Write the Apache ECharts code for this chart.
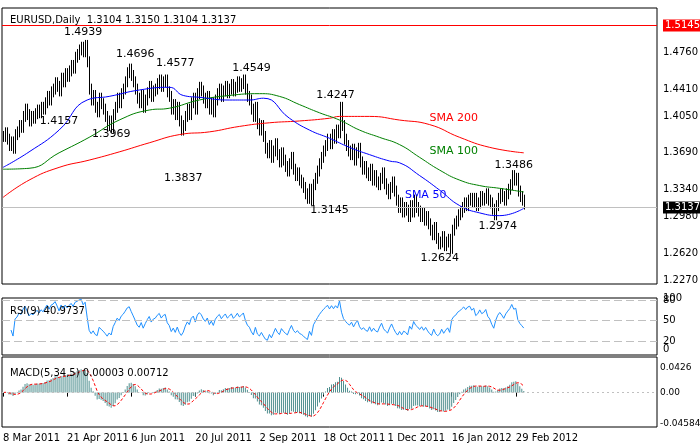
<!DOCTYPE html>
<html><head><meta charset="utf-8">
<script src="https://cdn.jsdelivr.net/npm/echarts@6/dist/echarts.min.js"></script>
<style>html,body{margin:0;padding:0;background:#fff}#c{width:700px;height:446px}</style>
</head><body><div id="c"></div>
<script>
const closes = [
1.388,1.392,1.385,1.378,1.382,1.375,1.390,1.393,1.400,1.398,
1.410,1.418,1.412,1.405,1.410,1.408,1.413,1.417,1.414,1.420,
1.418,1.425,1.432,1.428,1.437,1.440,1.447,1.443,1.438,1.452,
1.448,1.457,1.454,1.460,1.466,1.463,1.475,1.478,1.483,1.486,
1.481,1.488,1.470,1.440,1.428,1.433,1.420,1.415,1.430,1.424,
1.418,1.410,1.400,1.405,1.398,1.412,1.420,1.430,1.425,1.435,
1.440,1.448,1.458,1.462,1.455,1.448,1.440,1.430,1.425,1.433,
1.420,1.428,1.436,1.443,1.432,1.438,1.440,1.446,1.450,1.443,
1.448,1.450,1.437,1.432,1.418,1.423,1.412,1.420,1.405,1.395,
1.400,1.410,1.418,1.412,1.425,1.430,1.418,1.435,1.442,1.438,
1.430,1.425,1.432,1.418,1.425,1.415,1.428,1.435,1.440,1.432,
1.438,1.443,1.436,1.440,1.445,1.438,1.442,1.448,1.443,1.446,
1.450,1.440,1.432,1.428,1.418,1.410,1.420,1.402,1.395,1.400,
1.388,1.375,1.370,1.378,1.365,1.372,1.380,1.368,1.360,1.370,
1.362,1.355,1.350,1.358,1.365,1.352,1.345,1.348,1.340,1.337,
1.332,1.325,1.320,1.330,1.318,1.335,1.342,1.350,1.358,1.365,
1.372,1.378,1.385,1.380,1.390,1.386,1.395,1.392,1.420,1.400,
1.385,1.378,1.372,1.368,1.374,1.362,1.370,1.375,1.360,1.352,
1.355,1.348,1.345,1.352,1.340,1.345,1.338,1.335,1.342,1.348,
1.336,1.330,1.325,1.332,1.338,1.328,1.318,1.310,1.315,1.305,
1.310,1.307,1.300,1.312,1.305,1.318,1.310,1.306,1.300,1.304,
1.296,1.300,1.292,1.285,1.280,1.288,1.276,1.270,1.272,1.278,
1.268,1.272,1.275,1.265,1.285,1.292,1.295,1.302,1.305,1.310,
1.315,1.312,1.318,1.320,1.316,1.320,1.312,1.315,1.322,1.318,
1.320,1.325,1.318,1.315,1.308,1.302,1.312,1.320,1.325,1.322,
1.318,1.325,1.330,1.335,1.345,1.340,1.342,1.328,1.322,1.318,1.3137];
// moving averages: [bar index, value]
const sma50 = [[0,1.354],[13,1.371],[28,1.395],[42,1.428],[53,1.432],[68,1.439],[83,1.442],[90,1.433],[98,1.431],[113,1.428],[123,1.428],[130,1.430],[143,1.408],[153,1.395],[163,1.386],[173,1.376],[183,1.368],[193,1.361],[198,1.359],[208,1.345],[218,1.329],[228,1.312],[238,1.304],[248,1.301],[260,1.309]];
const sma100 = [[0,1.352],[13,1.353],[28,1.370],[43,1.387],[58,1.406],[73,1.417],[83,1.419],[98,1.428],[113,1.433],[128,1.435],[138,1.432],[148,1.423],[158,1.414],[168,1.406],[178,1.395],[188,1.387],[198,1.379],[208,1.365],[218,1.351],[228,1.340],[238,1.334],[248,1.331],[260,1.327]];
const sma200 = [[0,1.321],[13,1.340],[28,1.354],[43,1.362],[58,1.371],[73,1.381],[88,1.390],[103,1.393],[118,1.399],[133,1.403],[148,1.405],[163,1.408],[168,1.410],[183,1.410],[198,1.406],[213,1.401],[228,1.387],[243,1.376],[260,1.370]];
const priceTicks = [1.4760,1.4410,1.4050,1.3690,1.3340,1.2980,1.2620,1.2270];
const rsiTicks = [[83,'100'],[80,'80'],[50,'50'],[20,'20'],[8,'0']];
const macdTicks = [[0.0426,'0.0426'],[0,'0.00'],[-0.04584,'-0.04584']];
const dateLabels = ['8 Mar 2011','21 Apr 2011','6 Jun 2011','20 Jul 2011','2 Sep 2011','18 Oct 2011','1 Dec 2011','16 Jan 2012','29 Feb 2012'];
const notes = [['1.4939',40,1.5026],['1.4157',28,1.405],['1.3969',54,1.390],['1.4696',66,1.478],['1.4577',86,1.468],['1.3837',90,1.342],['1.4549',124,1.463],['1.3145',163,1.307],['1.4247',166,1.433],['1.2624',218,1.254],['1.2974',247,1.290],['1.3486',255,1.356]];
const smaNotes = [['SMA 200',225,1.408,'#ff0000'],['SMA 100',225,1.372,'#008000'],['SMA 50',211,1.324,'#0000ff']];
const lastPrice = 1.3137, resistance = 1.5145, padBars = 66;

const mon=['Jan','Feb','Mar','Apr','May','Jun','Jul','Aug','Sep','Oct','Nov','Dec'];
const cats=[]; let d=new Date(Date.UTC(2011,2,8));
while(cats.length<closes.length){const w=d.getUTCDay(); if(w>0&&w<6)cats.push(d.getUTCDate()+' '+mon[d.getUTCMonth()]+' '+d.getUTCFullYear()); d=new Date(d.getTime()+864e5);}
for(let i=0;i<padBars;i++)cats.push('p'+i);
const ohlc=closes.map((c,i)=>{const o=i?closes[i-1]:c;return [i,o,c,Math.min(o,c)-0.006,Math.max(o,c)+0.006];});
// RSI(9)
const rsi=[];let ag=0,al=0;
for(let i=0;i<closes.length;i++){ if(i==0){rsi.push(null);continue;} const ch=closes[i]-closes[i-1],g=Math.max(ch,0),l=Math.max(-ch,0);
 if(i<=9){ag+=g/9;al+=l/9;} else {ag=(ag*8+g)/9;al=(al*8+l)/9;}
 rsi.push(i<4?null:(al==0?100:100-100/(1+ag/al)));}
// MACD(5,34,5)
let e5=closes[0],e34=closes[0];const macd=[],sig=[];
closes.forEach((c,i)=>{e5+=(c-e5)*2/6;e34+=(c-e34)*2/35;macd.push(e5-e34);
 const s=macd.slice(Math.max(0,i-4));sig.push(s.reduce((a,b)=>a+b,0)/s.length);});

const font='"DejaVu Sans", sans-serif';
const lab={fontSize:10,color:'#000',fontFamily:font};
const clear={color:'rgba(0,0,0,0)'};
const mk=(v,t)=>({yAxis:v,label:{formatter:t}});
const chart=echarts.init(document.getElementById('c'));
const grids=[{left:2,right:43,top:8,height:276},{left:2,right:43,top:298,height:57},{left:2,right:43,top:357,height:70}];
chart.setOption({
 animation:false,backgroundColor:'#fff',
 title:[{text:'EURUSD,Daily  1.3104 1.3150 1.3104 1.3137',left:5,top:10},{text:'RSI(9) 40.9737',left:5,top:301},{text:'MACD(5,34,5) 0.00003 0.00712',left:5,top:363}].map(t=>Object.assign(t,{textStyle:{fontSize:10,fontWeight:'normal',color:'#000',fontFamily:font}})),
 grid:grids.map(g=>Object.assign({show:true,borderColor:'#000',borderWidth:1},g)),
 xAxis:[0,1,2].map(i=>({type:'category',gridIndex:i,data:cats,boundaryGap:true,
   axisLine:{show:false},axisTick:{show:i==2,alignWithLabel:true,interval:(k,v)=>dateLabels.includes(v),length:4,lineStyle:{color:'#000'}},
   axisLabel:{show:i==2,interval:(k,v)=>dateLabels.includes(v),align:'left',margin:6,color:'#000',fontSize:10,fontFamily:font},splitLine:{show:false}})),
 yAxis:[{min:1.2259,max:1.5291},{min:0,max:83},{min:-0.056,max:0.058}].map((y,i)=>Object.assign({type:'value',gridIndex:i,show:false,splitLine:{show:false}},y)),
 series:[
  {type:'custom',data:ohlc,encode:{x:0,y:[1,2,3,4]},
   renderItem:(p,api)=>{const x=api.value(0),lo=api.coord([x,api.value(3)]),hi=api.coord([x,api.value(4)]);
     const cx=Math.round(lo[0])+0.5;
     return {type:'line',shape:{x1:cx,y1:hi[1],x2:cx,y2:lo[1]},style:{stroke:'#000',lineWidth:1}};},
   markLine:{silent:true,symbol:'none',lineStyle:clear,label:Object.assign({position:'end',distance:6},lab),
    data:priceTicks.map(v=>mk(v,v.toFixed(4))).concat([
     {yAxis:resistance,lineStyle:{color:'#ff0000',width:1,type:'solid'},label:{formatter:resistance.toFixed(4),backgroundColor:'#ff0000',color:'#fff',padding:[1,2]}},
     {yAxis:lastPrice,lineStyle:{color:'#c0c0c0',width:1,type:'solid'},label:{formatter:lastPrice.toFixed(4),backgroundColor:'#000',color:'#fff',padding:[1,2]}}])},
   markPoint:{symbol:'circle',symbolSize:0,data:notes.map(n=>({coord:[n[1],n[2]],label:{show:true,formatter:n[0],color:'#000',fontSize:11,fontFamily:font}})).concat(
     smaNotes.map(n=>({coord:[n[1],n[2]],label:{show:true,formatter:n[0],color:n[3],fontSize:11,fontFamily:font}})))}},
  {type:'line',data:sma200,smooth:true,showSymbol:false,lineStyle:{color:'#ff0000',width:1}},
  {type:'line',data:sma100,smooth:true,showSymbol:false,lineStyle:{color:'#008000',width:1}},
  {type:'line',data:sma50,smooth:true,showSymbol:false,lineStyle:{color:'#0000ff',width:1}},
  {type:'line',xAxisIndex:1,yAxisIndex:1,data:rsi,showSymbol:false,lineStyle:{color:'#1e90ff',width:1},
   markLine:{silent:true,symbol:'none',label:Object.assign({position:'end',distance:6},lab),lineStyle:{color:'#c0c0c0',type:[8,4],width:1},
    data:rsiTicks.map(t=>Object.assign(mk(t[0],t[1]),(t[0]<10||t[0]>81)?{lineStyle:clear}:{},t[0]>81?{label:{formatter:t[1],padding:[0,0,12,0]}}:{}))}},
  {type:'bar',xAxisIndex:2,yAxisIndex:2,data:macd,barWidth:1,itemStyle:{color:'#4f8f8f'},
   markLine:{silent:true,symbol:'none',label:Object.assign({position:'end',distance:3},lab,{fontSize:9}),lineStyle:{color:'#c0c0c0',type:[2,3],width:1},
    data:macdTicks.map(t=>Object.assign(mk(t[0],t[1]),t[0]!=0?{lineStyle:clear}:{}))}},
  {type:'line',xAxisIndex:2,yAxisIndex:2,data:sig,showSymbol:false,lineStyle:{color:'#ff0000',width:1,type:[3,2]}}
 ]});
</script></body></html>
